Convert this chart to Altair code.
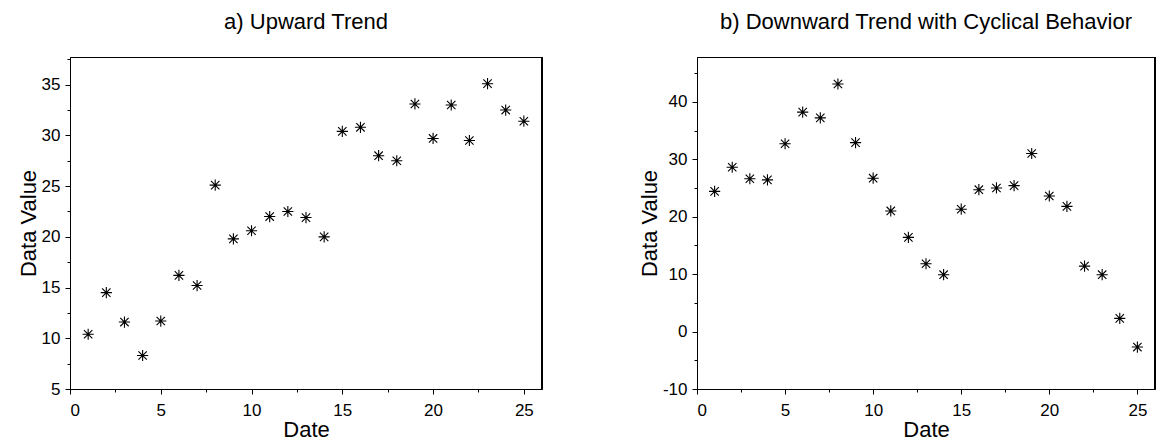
import altair as alt
import pandas as pd

# ---- data ----
dates = list(range(1, 26))
upward = [10.4, 14.5, 11.6, 8.3, 11.7, 16.2, 15.2, 25.1, 19.8, 20.6, 22.0, 22.5, 21.9,
          20.0, 30.4, 30.8, 28.0, 27.5, 33.1, 29.7, 33.0, 29.5, 35.1, 32.5, 31.4]
downward = [24.4, 28.6, 26.6, 26.4, 32.7, 38.2, 37.2, 43.1, 32.9, 26.7, 21.0, 16.4, 11.8,
            9.9, 21.3, 24.7, 25.0, 25.4, 31.0, 23.6, 21.8, 11.4, 9.9, 2.3, -2.7]
x_ticks = [0, 2.5, 5, 7.5, 10, 12.5, 15, 17.5, 20, 22.5, 25]
left_y_ticks = [5, 7.5, 10, 12.5, 15, 17.5, 20, 22.5, 25, 27.5, 30, 32.5, 35, 37.5]
right_y_ticks = [-10, -5, 0, 5, 10, 15, 20, 25, 30, 35, 40, 45]

FONT = "Liberation Sans"
STAR = "M0,-1L0,1M-1,0L1,0M-0.75,-0.75L0.75,0.75M-0.75,0.75L0.75,-0.75"


def tick_len(step):
    return {"condition": {"test": f"datum.value % {step} !== 0", "value": 3}, "value": 5}


def panel(vals, title, ydom, yticks, ystep, width):
    df = pd.DataFrame({"Date": dates, "Value": vals})
    x = alt.X(
        "Date:Q",
        scale=alt.Scale(domain=[0, 26], nice=False, zero=False),
        axis=alt.Axis(values=x_ticks, title="Date", labelPadding=8, tickSize=tick_len(5),
                      labelExpr="datum.value % 5 === 0 ? '' + datum.value : ''"),
    )
    y = alt.Y(
        "Value:Q",
        scale=alt.Scale(domain=ydom, nice=False, zero=False),
        axis=alt.Axis(values=yticks, title="Data Value", labelPadding=5,
                      tickSize=tick_len(ystep),
                      labelExpr=f"datum.value % {ystep} === 0 ? '' + datum.value : ''"),
    )
    pts = alt.Chart(df).mark_point(
        shape=STAR, filled=False, stroke="black", strokeWidth=1.1, size=125, opacity=1
    ).encode(x=x, y=y)
    edge = alt.Chart(df).mark_rule(color="black", strokeWidth=2).encode(x=alt.datum(26))
    return alt.layer(pts, edge).properties(
        width=width, height=332,
        title=alt.TitleParams(title, fontSize=22, fontWeight="normal", font=FONT,
                              color="black", anchor="middle", offset=22),
    )


left = panel(upward, "a) Upward Trend", [5, 37.73], left_y_ticks, 5, 472)
right = panel(downward, "b) Downward Trend with Cyclical Behavior", [-10, 47.8],
              right_y_ticks, 10, 458)

chart = alt.hconcat(left, right, spacing=93).properties(
    padding={"left": 16, "top": 10, "right": 5, "bottom": 0}
).configure(background="white").configure_view(
    stroke="black", strokeWidth=1
).configure_axis(
    grid=False, domainColor="black", tickColor="black", labelColor="black",
    titleColor="black", labelFontSize=17, titleFontSize=22,
    titleFontWeight="normal", labelFont=FONT, titleFont=FONT,
    titlePadding=1,
)

chart.save("out.html", embed_options={"renderer": "svg", "actions": False})
